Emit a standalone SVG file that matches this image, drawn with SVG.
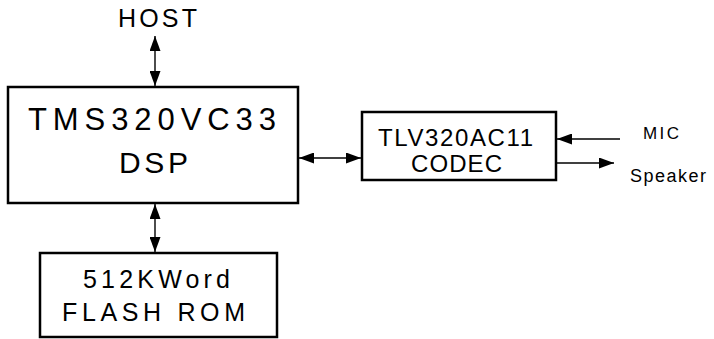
<svg xmlns="http://www.w3.org/2000/svg" width="714" height="339" viewBox="0 0 714 339">
<defs>
<marker id="ah" viewBox="0 0 15 11" refX="15" refY="5.5" markerWidth="15" markerHeight="11" markerUnits="userSpaceOnUse" orient="auto-start-reverse">
<path d="M0,0 L15,5.5 L0,11 Z" fill="#000"/>
</marker>
</defs>
<style>
.box{fill:#fff;stroke:#000;stroke-width:2.5}
.t{font-family:"Liberation Sans",Arial,sans-serif;fill:#000}
.c{stroke:#000;stroke-width:1.4;fill:none}
</style>
<rect width="714" height="339" fill="#fff"/>
<g id="connectors">
<line class="c" x1="155" y1="36" x2="155" y2="86" marker-start="url(#ah)" marker-end="url(#ah)"/>
<line class="c" x1="155" y1="204" x2="155" y2="252" marker-start="url(#ah)" marker-end="url(#ah)"/>
<line class="c" x1="299" y1="158" x2="361" y2="158" marker-start="url(#ah)" marker-end="url(#ah)"/>
<line class="c" x1="620" y1="139" x2="557" y2="139" marker-end="url(#ah)"/>
<line class="c" x1="557" y1="163" x2="614" y2="163" marker-end="url(#ah)"/>
</g>
<g id="host"><text class="t" x="118" y="27" font-size="25" textLength="79" lengthAdjust="spacing">HOST</text></g>
<g id="dsp">
<rect class="box" x="8" y="87" width="290" height="116"/>
<text class="t" x="28" y="130" font-size="31" textLength="248" lengthAdjust="spacing">TMS320VC33</text>
<text class="t" x="119" y="173" font-size="30" textLength="69" lengthAdjust="spacing">DSP</text>
</g>
<g id="codec">
<rect class="box" x="362" y="112" width="194" height="68"/>
<text class="t" x="378" y="146" font-size="24" textLength="155" lengthAdjust="spacing">TLV320AC11</text>
<text class="t" x="411" y="172" font-size="24" textLength="91" lengthAdjust="spacing">CODEC</text>
</g>
<g id="flash">
<rect class="box" x="40" y="253" width="237" height="84"/>
<text class="t" x="83" y="288" font-size="25" textLength="147" lengthAdjust="spacing">512KWord</text>
<text class="t" x="62" y="321" font-size="25" textLength="183" lengthAdjust="spacing">FLASH ROM</text>
</g>
<g id="mic"><text class="t" x="643" y="139" font-size="17" textLength="36" lengthAdjust="spacing">MIC</text></g>
<g id="speaker"><text class="t" x="630" y="182" font-size="18" textLength="76" lengthAdjust="spacing">Speaker</text></g>
</svg>
